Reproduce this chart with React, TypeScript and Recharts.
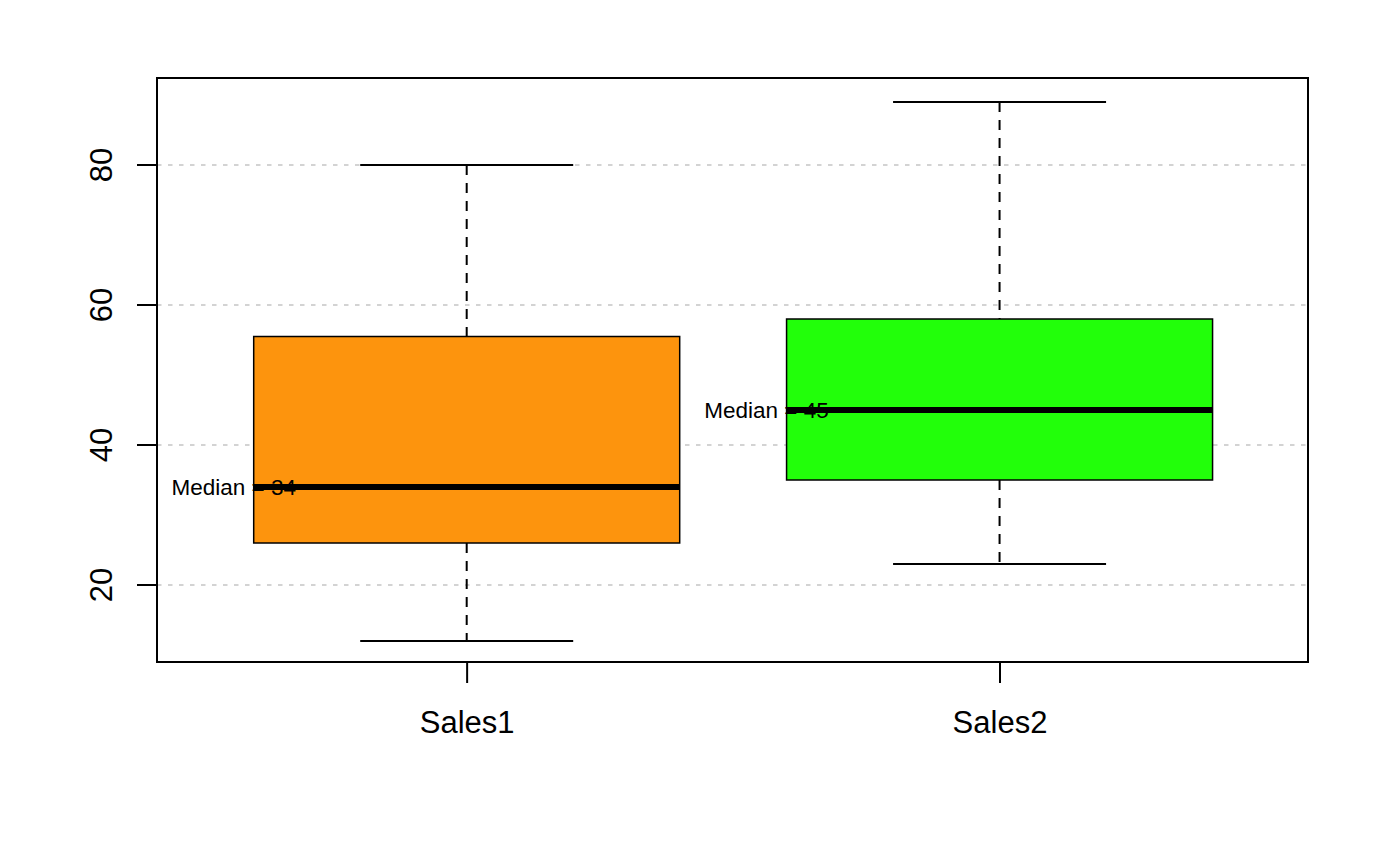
import React from 'react';
import {
  ComposedChart,
  Bar,
  XAxis,
  YAxis,
  CartesianGrid,
  ReferenceArea,
} from 'recharts';

const categories = ['Sales1', 'Sales2'];
const positions = [1, 2];
const mins = [12, 23];
const q1s = [26, 35];
const medians = [34, 45];
const q3s = [55.5, 58];
const maxes = [80, 89];
const boxColors = ['#fd940d', '#22ff0a'];
const yTicks = [20, 40, 60, 80];

const X_DOMAIN = [0.418, 2.578];
const Y_DOMAIN = [9, 92.43];
const FONT = '"Liberation Sans", Arial, sans-serif';

const data = categories.map((name, i) => ({
  name,
  pos: positions[i],
  range: [mins[i], maxes[i]],
  min: mins[i],
  q1: q1s[i],
  median: medians[i],
  q3: q3s[i],
  max: maxes[i],
  color: boxColors[i],
}));

function BoxShape(props: any) {
  const { x, y, width, height, payload } = props;
  const top = Math.min(y, y + height);
  const bottom = Math.max(y, y + height);
  const { min, q1, median, q3, max, color } = payload;
  const py = (v: number) => top + ((max - v) / (max - min)) * (bottom - top);
  const cx = x + width / 2;
  const capHalf = width / 4;
  return (
    <g>
      <line x1={cx} x2={cx} y1={py(max)} y2={py(q3)} stroke="#000" strokeWidth={2} strokeDasharray="10 8" />
      <line x1={cx} x2={cx} y1={py(q1)} y2={py(min)} stroke="#000" strokeWidth={2} strokeDasharray="10 8" />
      <line x1={cx - capHalf} x2={cx + capHalf} y1={py(max)} y2={py(max)} stroke="#000" strokeWidth={2} />
      <line x1={cx - capHalf} x2={cx + capHalf} y1={py(min)} y2={py(min)} stroke="#000" strokeWidth={2} />
      <rect x={x} y={py(q3)} width={width} height={py(q1) - py(q3)} fill={color} stroke="#000" strokeWidth={1.5} />
      <line x1={x} x2={x + width} y1={py(median)} y2={py(median)} stroke="#000" strokeWidth={6} />
      <text x={x - 20} y={py(median) + 8} textAnchor="middle" fontSize={22.5} fontFamily={FONT} fill="#000">
        {`Median = ${median}`}
      </text>
    </g>
  );
}

function YTick(props: any) {
  const { x, y, payload } = props;
  const tx = x - 25;
  return (
    <text x={tx} y={y} transform={`rotate(-90, ${tx}, ${y})`} textAnchor="middle" fontSize={31} fontFamily={FONT} fill="#000">
      {payload.value}
    </text>
  );
}

function XTick(props: any) {
  const { x, y, payload } = props;
  const label = categories[positions.indexOf(payload.value)];
  return (
    <text x={x} y={y + 50} textAnchor="middle" fontSize={31} fontFamily={FONT} fill="#000">
      {label}
    </text>
  );
}

export default function App() {
  return (
    <div style={{ position: 'absolute', left: 0, top: 0, background: '#fff' }}>
      <ComposedChart
        width={1390}
        height={859}
        data={data}
        margin={{ top: 78, right: 82, bottom: 97, left: 57 }}
      >
        <CartesianGrid
          vertical={false}
          horizontalValues={yTicks}
          stroke="#d3d3d3"
          strokeWidth={2}
          strokeDasharray="4.5 6.5"
        />
        <XAxis
          dataKey="pos"
          type="number"
          height={100}
          domain={X_DOMAIN}
          ticks={positions}
          allowDataOverflow
          axisLine={false}
          tickLine={{ stroke: '#000', strokeWidth: 2 }}
          tickSize={21}
          tickMargin={0}
          interval={0}
          tick={<XTick />}
        />
        <YAxis
          type="number"
          width={100}
          domain={Y_DOMAIN}
          ticks={yTicks}
          allowDataOverflow
          axisLine={false}
          tickLine={{ stroke: '#000', strokeWidth: 2 }}
          tickSize={20}
          tickMargin={0}
          tick={<YTick />}
        />
        <Bar dataKey="range" barSize={426} isAnimationActive={false} shape={<BoxShape />} />
        <ReferenceArea
          x1={X_DOMAIN[0]}
          x2={X_DOMAIN[1]}
          y1={Y_DOMAIN[0]}
          y2={Y_DOMAIN[1]}
          fill="none"
          stroke="#000"
          strokeWidth={2}
          ifOverflow="visible"
        />
      </ComposedChart>
    </div>
  );
}
